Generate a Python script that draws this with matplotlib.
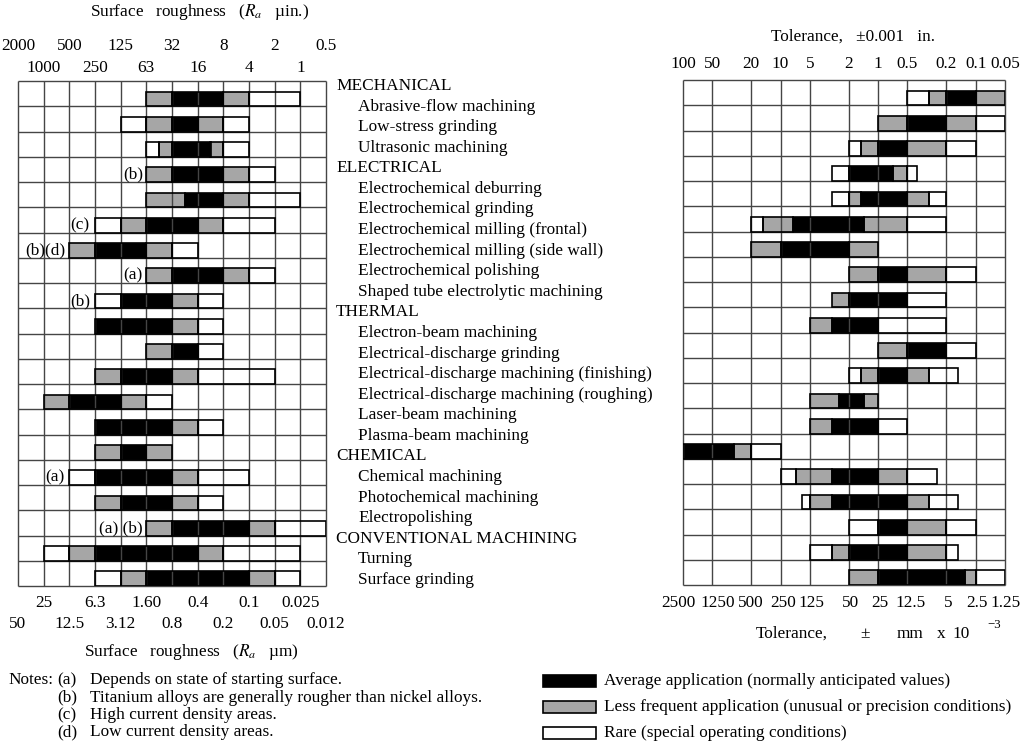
import matplotlib.pyplot as plt

plt.rcParams['font.family'] = ['Liberation Serif', 'DejaVu Serif']
plt.rcParams['mathtext.fontset'] = 'stix'

# process names, grouped by category
categories = ["MECHANICAL", "ELECTRICAL", "THERMAL", "CHEMICAL", "CONVENTIONAL MACHINING"]
processes = [
    "Abrasive-flow machining", "Low-stress grinding", "Ultrasonic machining",
    "Electrochemical deburring", "Electrochemical grinding",
    "Electrochemical milling (frontal)", "Electrochemical milling (side wall)",
    "Electrochemical polishing", "Shaped tube electrolytic machining",
    "Electron-beam machining", "Electrical-discharge grinding",
    "Electrical-discharge machining (finishing)", "Electrical-discharge machining (roughing)",
    "Laser-beam machining", "Plasma-beam machining",
    "Chemical machining", "Photochemical machining", "Electropolishing",
    "Turning", "Surface grinding",
]
process_group = [0, 0, 0, 1, 1, 1, 1, 1, 1, 2, 2, 2, 2, 2, 2, 3, 3, 3, 4, 4]

# surface roughness scale, one column per factor of 2
rough_uin = ["2000", "1000", "500", "250", "125", "63", "32", "16", "8", "4", "2", "1", "0.5"]
rough_um = ["50", "25", "12.5", "6.3", "3.12", "1.60", "0.8", "0.4", "0.2", "0.1", "0.05", "0.025", "0.012"]

# roughness bars: segment edges in column units, B = average, G = less frequent, W = rare
rough_edges = [
    [5, 6, 8, 9, 11], [4, 5, 6, 7, 8, 9], [5, 5.5, 6, 7.5, 8, 9], [5, 6, 8, 9, 10],
    [5, 6.5, 8, 9, 11], [3, 4, 5, 7, 8, 10], [2, 3, 5, 6, 7], [5, 6, 8, 9, 10],
    [3, 4, 6, 7, 8], [3, 6, 7, 8], [5, 6, 7, 8], [3, 4, 6, 7, 10],
    [1, 2, 4, 5, 6], [3, 6, 7, 8], [3, 4, 5, 6], [2, 3, 6, 7, 9],
    [3, 4, 6, 7, 8], [5, 6, 9, 10, 12], [1, 2, 3, 7, 8, 11], [3, 4, 5, 9, 10, 11],
]
rough_kinds = [
    "GBGW", "WGBGW", "WGBGW", "GBGW", "GBGW", "WGBGW", "GBGW", "GBGW", "WBGW", "BGW",
    "GBW", "GBGW", "GBGW", "BGW", "GBG", "WBGW", "GBGW", "GBGW", "WGBGW", "WGBGW",
]
rough_notes = {3: ("(b)", 4.87), 5: ("(c)", 2.77), 6: ("(b)(d)", 1.83), 7: ("(a)", 4.87),
               8: ("(b)", 2.8), 15: ("(a)", 1.83), 17: ("(a) (b)", 4.87)}

# tolerance scale (0.001 in.) and matching mm x 10^-3
tol_in = [100, 50, 20, 10, 5, 2, 1, 0.5, 0.2, 0.1, 0.05]
tol_in_lbl = ["100", "50", "20", "10", "5", "2", "1", "0.5", "0.2", "0.1", "0.05"]
tol_mm_lbl = ["2500", "1250", "500", "250", "125", "50", "25", "12.5", "5", "2.5", "1.25"]
tol_mm_nudge = [-5, 5, 0, 3, 2, 2, 2, 3, 2, 1, 1]  # px, labels are crowded on the left

tol_edges = [
    [0.5, 0.3, 0.2, 0.1, 0.05], [1, 0.5, 0.2, 0.1, 0.05], [2, 1.5, 1, 0.5, 0.2, 0.1],
    [3, 2, 0.7, 0.5, 0.4], [3, 2, 1.5, 0.5, 0.3, 0.2], [20, 15, 7.5, 1.4, 0.5, 0.2],
    [20, 10, 2, 1], [2, 1, 0.5, 0.2, 0.1], [3, 2, 0.5, 0.2], [5, 3, 1, 0.2],
    [1, 0.5, 0.2, 0.1], [2, 1.5, 1, 0.5, 0.3, 0.15], [5, 2.5, 1.4, 1], [5, 3, 1, 0.5],
    [100, 30, 20, 10], [10, 7, 3, 1, 0.5, 0.25], [6, 5, 3, 0.5, 0.3, 0.15],
    [2, 1, 0.5, 0.2, 0.1], [5, 3, 2, 0.5, 0.2, 0.15], [2, 1, 0.13, 0.1, 0.05],
]
tol_kinds = [
    "WGBG", "GBGW", "WGBGW", "WBGW", "WGBGW", "WGBGW", "GBG", "GBGW", "GBW", "GBW",
    "GBW", "WGBGW", "GBG", "GBW", "BGW", "WGBGW", "WGBGW", "WBGW", "WGBGW", "GBGW",
]

legend_text = ["Average application (normally anticipated values)",
               "Less frequent application (unusual or precision conditions)",
               "Rare (special operating conditions)"]
notes = [("(a)", "Depends on state of starting surface."),
         ("(b)", "Titanium alloys are generally rougher than nickel alloys."),
         ("(c)", "High current density areas."),
         ("(d)", "Low current density areas.")]

colors = {"B": "black", "G": "#a6a6a6", "W": "white"}
GRID = "#454545"
FS = 12.4
W, H = 1024, 741


def px(x, y):
    return x / W, 1 - y / H


def draw_bars(ax, edges, kinds):
    for i, (e, k) in enumerate(zip(edges, kinds)):
        for j, c in enumerate(k):
            ax.barh(i + 0.71, e[j + 1] - e[j], left=e[j], height=0.58,
                    color=colors[c], edgecolor='none', zorder=2)
            ax.barh(i + 0.71, e[j + 1] - e[j], left=e[j], height=0.58,
                    fill=False, edgecolor='black', lw=1.2, zorder=4)


fig = plt.figure(figsize=(W / 100, H / 100), dpi=100)

# ---- left panel: surface roughness ----
axl = fig.add_axes([18 / W, 1 - 586 / H, 308 / W, 505 / H])
draw_bars(axl, rough_edges, rough_kinds)
axl.vlines(range(13), 0, 20, color=GRID, lw=1, zorder=3, clip_on=False)
axl.hlines(range(21), 0, 12, color=GRID, lw=1, zorder=3, clip_on=False)
axl.set_xlim(0, 12)
axl.set_ylim(20, 0)
axl.axis('off')

tr = axl.get_xaxis_transform()
for i, lbl in enumerate(rough_uin):
    axl.text(i, 1.069 if i % 2 == 0 else 1.026, lbl, transform=tr,
             ha='center', va='center', fontsize=FS)
for i, lbl in enumerate(rough_um):
    axl.text(i, -0.075 if i % 2 == 0 else -0.034, lbl, transform=tr,
             ha='center', va='center', fontsize=FS)
for row, (txt, xpos) in rough_notes.items():
    axl.text(xpos, row + 0.71, txt, ha='right', va='center', fontsize=FS)

# ---- right panel: tolerance ----
axr = fig.add_axes([683 / W, 1 - 585 / H, 322 / W, 505 / H])
draw_bars(axr, tol_edges, tol_kinds)
axr.set_xscale('log')
axr.vlines(tol_in, 0, 20, color=GRID, lw=1, zorder=3, clip_on=False)
axr.hlines(range(21), 100, 0.05, color=GRID, lw=1, zorder=3, clip_on=False)
axr.set_xlim(100, 0.05)
axr.set_ylim(20, 0)
axr.axis('off')

tr = axr.get_xaxis_transform()
for v, a, b, dx in zip(tol_in, tol_in_lbl, tol_mm_lbl, tol_mm_nudge):
    axr.text(v, 1.032, a, transform=tr, ha='center', va='center', fontsize=FS)
    axr.annotate(b, (v, -0.036), xycoords=tr, xytext=(dx * 0.72, 0), textcoords='offset points',
                 ha='center', va='center', fontsize=FS)

# ---- process labels in the middle ----
k = 0
last = -1
for name, g in zip(processes, process_group):
    if g != last:
        fig.text(*px(336, 86 + 20.58 * k), categories[g], ha='left', va='center', fontsize=FS)
        k += 1
        last = g
    fig.text(*px(358, 86 + 20.58 * k), name, ha='left', va='center', fontsize=FS)
    k += 1

# ---- axis titles ----
fig.text(*px(200, 12), "Surface   roughness   ($R_a$   µin.)", ha='center', va='center', fontsize=FS)
fig.text(*px(191, 652), "Surface   roughness   ($R_a$   µm)", ha='center', va='center', fontsize=FS)
fig.text(*px(853, 37), "Tolerance,   ±0.001   in.", ha='center', va='center', fontsize=FS)
fig.text(*px(756, 634), "Tolerance,", ha='left', va='center', fontsize=FS)
fig.text(*px(865, 634), "±", ha='center', va='center', fontsize=FS)
fig.text(*px(897, 634), "mm", ha='left', va='center', fontsize=FS)
fig.text(*px(937, 634), "x", ha='left', va='center', fontsize=FS)
fig.text(*px(952, 634), "10", ha='left', va='center', fontsize=FS)
fig.text(*px(987, 625), "−3", ha='left', va='center', fontsize=FS * 0.75)

# ---- notes ----
fig.text(*px(8, 680), "Notes:", ha='left', va='center', fontsize=FS)
for i, (tag, txt) in enumerate(notes):
    y = 680 + 17.5 * i
    fig.text(*px(57, y), tag, ha='left', va='center', fontsize=FS)
    fig.text(*px(90, y), txt, ha='left', va='center', fontsize=FS)

# ---- legend ----
for i, (c, txt) in enumerate(zip("BGW", legend_text)):
    yc = 681 + 26 * i
    x0, y0 = px(543, yc + 6)
    fig.add_artist(plt.Rectangle((x0, y0), 53 / W, 12 / H, transform=fig.transFigure,
                                 facecolor=colors[c], edgecolor='black', lw=1.2))
    fig.text(*px(604, yc), txt, ha='left', va='center', fontsize=FS)

fig.savefig("out.png", dpi=100)
